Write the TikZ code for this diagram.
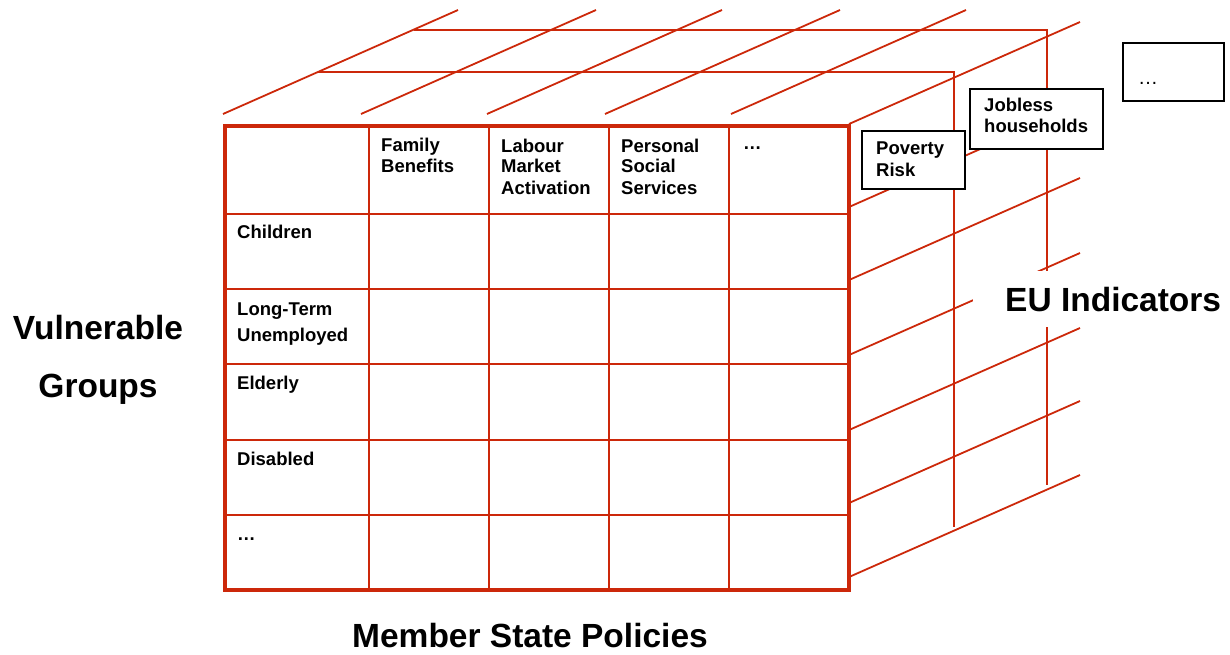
\documentclass[tikz,border=0pt]{standalone}
\usepackage{fontspec}
\setmainfont{Liberation Sans}
\definecolor{cubered}{RGB}{204,40,10}
\begin{document}
\begin{tikzpicture}[x=1pt,y=-1pt,
  depthline/.style={draw=cubered, line width=1.8pt},
  gridline/.style={draw=cubered, line width=2.2pt},
  frameline/.style={draw=cubered, line width=3.5pt},
  celltext/.style={font=\fontsize{18.5}{21}\selectfont\bfseries, anchor=base west, inner sep=0pt, align=left},
  tagbox/.style={draw=black, line width=1.7pt, fill=white, anchor=north west, inner sep=0pt},
  bigtext/.style={font=\fontsize{33.5}{58}\selectfont\bfseries, inner sep=0pt, align=center}]
\useasboundingbox (0,0) rectangle (1230,655);

% back layers
\draw[depthline] (318,72) -- (954,72) -- (954,527);
\draw[depthline] (414,30) -- (1047,30) -- (1047,485);

% top diagonals
\foreach \sx in {223,361,487,605,731}
  \draw[depthline] (\sx,114) -- ++(235,-104);

% right side diagonals
\foreach \sy in {124,207,280,355,430,503,577}
  \draw[depthline] (849,\sy) -- ++(231,-102);

% front face grid
\foreach \cx in {369,489,609,729}
  \draw[gridline] (\cx,126) -- (\cx,590);
\foreach \ry in {214,289,364,440,515}
  \draw[gridline] (225,\ry) -- (849,\ry);
\draw[frameline] (225,126) rectangle (849,590);

% header texts (anchor = baseline of last line)
\node[celltext] (fam) at (381,173) {Family\\Benefits};
\node[celltext] (lab) at (501,194) {Labour\\Market\\Activation};
\node[celltext] (pss) at (621,194) {Personal\\Social\\Services};
\node[celltext] (hdots) at (743,150) {…};

% row texts
\node[celltext] (chi) at (237,238) {Children};
\node[celltext, font=\fontsize{18.5}{26}\selectfont\bfseries] (ltu) at (237,341) {Long-Term\\Unemployed};
\node[celltext] (eld) at (237,389) {Elderly};
\node[celltext] (dis) at (237,465) {Disabled};
\node[celltext] (rdots) at (237,540) {…};

% indicator boxes
\node[tagbox, minimum width=103pt, minimum height=58pt] (povbox) at (861,130) {};
\node[celltext] (pov) at (876,176) {Poverty\\Risk};
\node[tagbox, minimum width=133pt, minimum height=60pt] (jobbox) at (969,88) {};
\node[celltext] (job) at (984,133) {Jobless\\households};
\node[tagbox, minimum width=101pt, minimum height=58pt] (dotbox) at (1122,42) {};
\node[font=\fontsize{20}{24}\selectfont, anchor=base, inner sep=0pt] (bdots) at (1148,85) {…};

% axis labels
\node[bigtext, anchor=base] (vg) at (98,397) {Vulnerable\\Groups};
\node[bigtext, anchor=base] (msp) at (530,647) {Member State Policies};
\node[bigtext, anchor=base west, fill=white, inner xsep=32pt, inner ysep=16pt] (eu) at (973,311) {EU Indicators};
\end{tikzpicture}
\end{document}
